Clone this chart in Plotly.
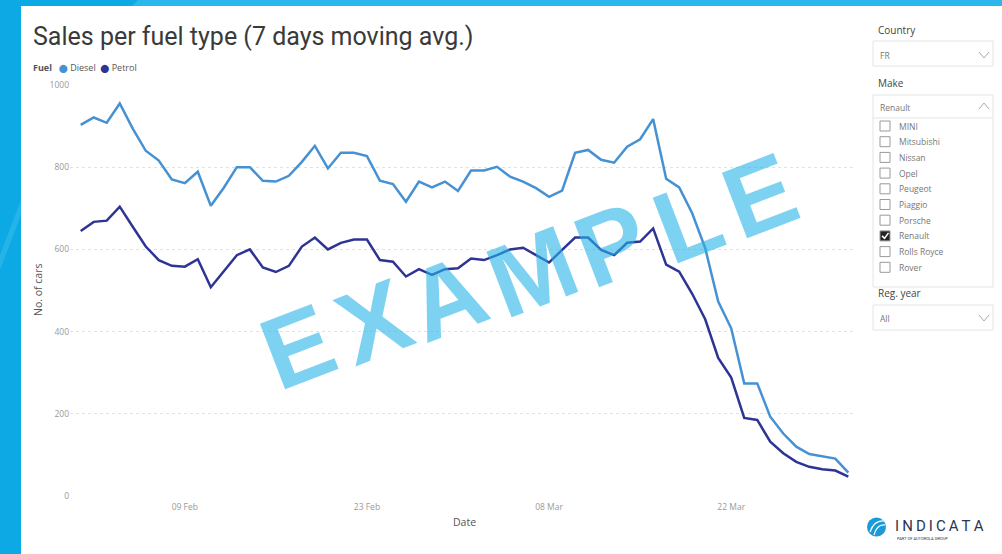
import plotly.graph_objects as go
import pandas as pd

# ---------------- data ----------------
dates = pd.date_range("2020-02-01", periods=60, freq="D")
diesel = [903, 921, 908, 955, 894, 840, 816, 770, 761, 789,
          706, 750, 800, 800, 767, 765, 779, 813, 852, 797,
          835, 835, 827, 767, 759, 716, 765, 751, 765, 742,
          792, 792, 801, 777, 765, 749, 728, 743, 835, 842,
          818, 811, 850, 868, 917, 772, 751, 688, 603, 473,
          408, 274, 274, 193, 152, 120, 102, 96, 91, 57]
petrol = [645, 667, 670, 704, 655, 607, 574, 560, 558, 576,
          508, 546, 586, 600, 556, 545, 560, 607, 629, 600,
          616, 624, 624, 574, 570, 534, 552, 538, 552, 554,
          578, 574, 586, 600, 604, 586, 568, 599, 629, 629,
          599, 586, 616, 619, 651, 563, 546, 492, 430, 336,
          288, 190, 185, 132, 104, 83, 71, 65, 62, 47]
x_tick_vals = ["2020-02-09", "2020-02-23", "2020-03-08", "2020-03-22"]
x_tick_text = ["09 Feb", "23 Feb", "08 Mar", "22 Mar"]
y_tick_vals = [0, 200, 400, 600, 800, 1000]
make_items = ["MINI", "Mitsubishi", "Nissan", "Opel", "Peugeot", "Piaggio",
              "Porsche", "Renault", "Rolls Royce", "Rover"]
selected_make = "Renault"
watermark = "EXAMPLE"

# ---------------- styling ----------------
DIESEL_C = "#4591D3"
PETROL_C = "#2D3494"
W, H = 1002, 554
L, R, T, B = 70, 147, 85, 58
PW, PH = W - L - R, H - T - B


def px(x):
    return (x - L) / PW


def py(y):
    return (H - B - y) / PH


fig = go.Figure()
fig.add_trace(go.Scatter(x=dates, y=diesel, mode="lines", name="Diesel",
                         line=dict(color=DIESEL_C, width=2.5)))
fig.add_trace(go.Scatter(x=dates, y=petrol, mode="lines", name="Petrol",
                         line=dict(color=PETROL_C, width=2.5)))

shapes = []
ann = []


def note(text, x, y, font, xanchor="left", yanchor="middle", **kw):
    ann.append(dict(text=text, x=px(x), y=py(y), xref="paper", yref="paper", xanchor=xanchor,
                    yanchor=yanchor, showarrow=False, font=font, **kw))


# frame
shapes.append(dict(type="rect", xref="paper", yref="paper", x0=px(0), x1=px(W), y0=py(6), y1=py(0),
                   fillcolor="#2BB7EC", line=dict(width=0), layer="below"))
shapes.append(dict(type="path", xref="paper", yref="paper",
                   path=f"M {px(0)} {py(0)} L {px(138)} {py(0)} L {px(132)} {py(6)} L {px(0)} {py(6)} Z",
                   fillcolor="#0DA9E4", line=dict(width=0), layer="below"))
shapes.append(dict(type="rect", xref="paper", yref="paper", x0=px(0), x1=px(21), y0=py(H), y1=py(0),
                   fillcolor="#0DA9E4", line=dict(width=0), layer="below"))
shapes.append(dict(type="path", xref="paper", yref="paper",
                   path=f"M {px(0)} {py(255)} L {px(21)} {py(200)} L {px(21)} {py(215)} L {px(0)} {py(270)} Z",
                   fillcolor="#25B4EA", line=dict(width=0), layer="below"))

# title + legend
note("Sales per fuel type (7 days moving avg.)", 31, 37, dict(family="Roboto", size=25, color="#3A3A3A"))
nb = "\u00a0"
note(f"<b>Fuel</b>{nb * 3}<span style='color:{DIESEL_C};font-family:DejaVu Sans;font-size:8px'>\u2b24</span>"
     f"{nb}Diesel{nb * 2}<span style='color:{PETROL_C};font-family:DejaVu Sans;font-size:8px'>\u2b24</span>"
     f"{nb}Petrol", 31, 68, dict(family="Open Sans", size=9, color="#555"))

# axis titles
note("No. of cars", 38, 290, dict(family="Open Sans", size=10.5, color="#555"), xanchor="center", textangle=-90)
note("Date", 464, 522, dict(family="Open Sans", size=10.5, color="#555"), xanchor="center")

# slicers
label_font = dict(family="Open Sans", size=10, color="#444")
small_font = dict(family="Open Sans", size=8.5, color="#777")
box_line = dict(color="#E4E4E4", width=1)


def chevron(cx, cy, up=False):
    d = -3 if up else 3
    return dict(type="path", xref="paper", yref="paper",
                path=f"M {px(cx - 5)} {py(cy - d)} L {px(cx)} {py(cy + d)} L {px(cx + 5)} {py(cy - d)}",
                line=dict(color="#AAAAAA", width=1))


note("Country", 876, 30, label_font)
shapes.append(dict(type="rect", xref="paper", yref="paper", x0=px(873), x1=px(993), y0=py(66), y1=py(41), line=box_line))
note("FR", 878, 55, small_font)
shapes.append(chevron(984, 55))

note("Make", 876, 83, label_font)
shapes.append(dict(type="rect", xref="paper", yref="paper", x0=px(873), x1=px(993), y0=py(287), y1=py(95), line=box_line))
shapes.append(dict(type="line", xref="paper", yref="paper", x0=px(873), x1=px(993), y0=py(118), y1=py(118), line=box_line))
note(selected_make, 878, 107, small_font)
shapes.append(chevron(984, 106, up=True))
for i, name in enumerate(make_items):
    cy = 126 + i * 15.7
    checked = name == selected_make
    shapes.append(dict(type="rect", xref="paper", yref="paper", x0=px(880), x1=px(890), y0=py(cy + 5), y1=py(cy - 5),
                       line=dict(color="#9A9A9A", width=1), fillcolor="#222222" if checked else "white"))
    if checked:
        shapes.append(dict(type="path", xref="paper", yref="paper",
                           path=f"M {px(882)} {py(cy)} L {px(884.5)} {py(cy + 2.5)} L {px(888.5)} {py(cy - 3)}",
                           line=dict(color="white", width=1.5)))
    note(name, 897, cy, small_font)

note("Reg. year", 876, 293, label_font)
shapes.append(dict(type="rect", xref="paper", yref="paper", x0=px(873), x1=px(993), y0=py(330), y1=py(305), line=box_line))
note("All", 878, 318, small_font)
shapes.append(chevron(984, 318))

# logo
shapes.append(dict(type="circle", xref="paper", yref="paper", x0=px(867), x1=px(886), y0=py(536.5), y1=py(517.5),
                   fillcolor="#1C9AD6", line=dict(width=0)))
shapes.append(dict(type="path", xref="paper", yref="paper",
                   path=f"M {px(870)} {py(532)} Q {px(874)} {py(520)} {px(884)} {py(521)}",
                   line=dict(color="white", width=1.2)))
shapes.append(dict(type="path", xref="paper", yref="paper",
                   path=f"M {px(874)} {py(535)} Q {px(877)} {py(524)} {px(885)} {py(525)}",
                   line=dict(color="white", width=1.2)))
note("I\u2009N\u2009D\u2009I\u2009C\u2009A\u2009T\u2009A", 893, 526, dict(family="Roboto", size=15, color="#2A3550"))
note("PART OF AUTOROLA GROUP", 895, 538, dict(family="Roboto", size=4, color="#2A3550"))

# watermark letters
centers = [(298, 347), (374, 322), (447, 298), (532, 272), (612, 245), (688, 222), (760, 196)]
for ch, (cx, cy) in zip(watermark, centers):
    note(f"<b>{ch}</b>", cx, cy, dict(family="Liberation Sans", size=102, color="rgba(40,180,232,0.6)"),
         xanchor="center", textangle=-21)

fig.update_layout(
    width=W, height=H,
    margin=dict(l=L, r=R, t=T, b=B, autoexpand=False),
    paper_bgcolor="white", plot_bgcolor="white",
    showlegend=False,
    shapes=shapes, annotations=ann,
    xaxis=dict(range=["2020-01-31 04:15", "2020-03-31 12:20"], tickvals=x_tick_vals, ticktext=x_tick_text,
               showgrid=False, zeroline=False, showline=False, ticks="", ticklabelstandoff=4,
               tickfont=dict(family="Open Sans", size=8.5, color="#999")),
    yaxis=dict(range=[0, 1000], tickvals=y_tick_vals, showgrid=True, gridcolor="#E2E2E2", griddash="dot",
               gridwidth=1, zeroline=False, showline=False, ticks="",
               tickfont=dict(family="Open Sans", size=8.5, color="#999")),
)

fig.write_html("out.html", config={"displayModeBar": False},
               post_script="document.body.style.margin='0';")
